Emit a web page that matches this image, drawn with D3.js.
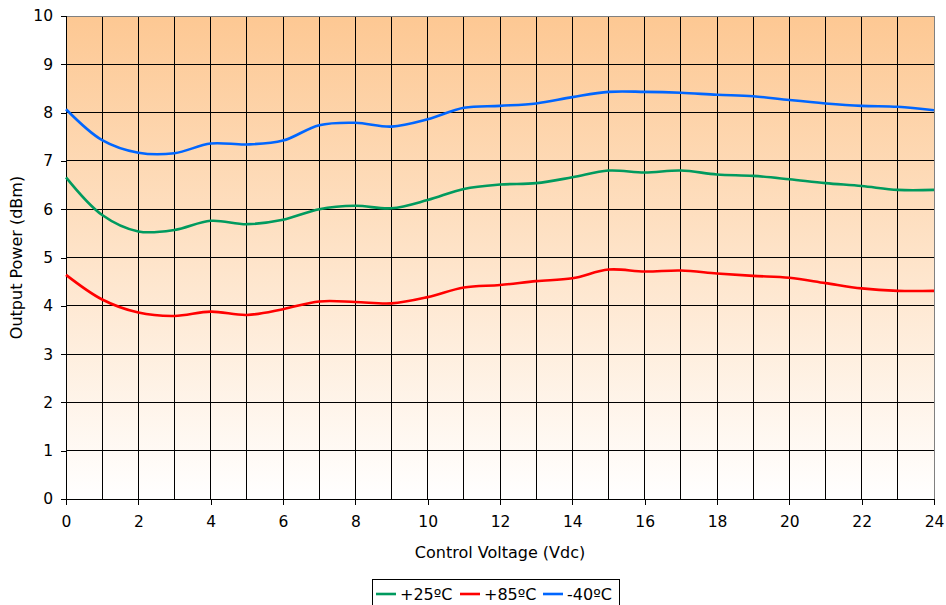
<!DOCTYPE html>
<html><head><meta charset="utf-8">
<script src="https://cdn.jsdelivr.net/npm/d3@7"></script>
<style>body{margin:0;background:#fff;} svg{display:block;}</style>
</head><body>
<svg id="c" width="946" height="605"></svg>
<script>
const voltages = d3.range(0, 25);
const p25 = [6.66,5.88,5.54,5.57,5.76,5.69,5.78,6.00,6.07,6.02,6.19,6.42,6.51,6.54,6.66,6.80,6.76,6.80,6.72,6.69,6.62,6.54,6.48,6.40,6.40];
const p85 = [4.64,4.13,3.86,3.79,3.88,3.81,3.93,4.09,4.08,4.05,4.18,4.38,4.43,4.51,4.57,4.75,4.71,4.73,4.67,4.62,4.58,4.47,4.36,4.31,4.31];
const m40 = [8.07,7.43,7.17,7.16,7.36,7.34,7.42,7.74,7.79,7.71,7.86,8.10,8.14,8.19,8.32,8.43,8.43,8.41,8.37,8.34,8.26,8.19,8.14,8.12,8.05];
const seriesNames = ["+25ºC","+85ºC","-40ºC"];
const seriesColors = ["#009A5E","#FF0000","#0066FF"];
const seriesData = [p25, p85, m40];
const xTicks = d3.range(0, 25, 2);
const yTicks = d3.range(0, 11, 1);

const svg = d3.select("#c");
const L=66, R=934, T=16, B=499;
const x = d3.scaleLinear().domain([0,24]).range([L,R]);
const y = d3.scaleLinear().domain([0,10]).range([B,T]);
const font = "DejaVu Sans, Verdana, sans-serif";

const defs = svg.append("defs");
const g = defs.append("linearGradient").attr("id","bg").attr("x1",0).attr("y1",0).attr("x2",0).attr("y2",1);
g.append("stop").attr("offset","0%").attr("stop-color","#FDC893");
g.append("stop").attr("offset","100%").attr("stop-color","#FFFFFF");
svg.append("rect").attr("x",L).attr("y",T).attr("width",R-L).attr("height",B-T).attr("fill","url(#bg)");

// grid
svg.append("g").selectAll("line").data(d3.range(1,24)).join("line")
  .attr("x1",d=>x(d)).attr("x2",d=>x(d)).attr("y1",T).attr("y2",B)
  .attr("stroke","#000").attr("stroke-width",1).attr("shape-rendering","crispEdges");
svg.append("g").selectAll("line").data(d3.range(1,10)).join("line")
  .attr("y1",d=>y(d)).attr("y2",d=>y(d)).attr("x1",L).attr("x2",R)
  .attr("stroke","#000").attr("stroke-width",1).attr("shape-rendering","crispEdges");
// border
svg.append("rect").attr("x",L).attr("y",T).attr("width",R-L).attr("height",B-T)
  .attr("fill","none").attr("stroke","#808080").attr("stroke-width",1).attr("shape-rendering","crispEdges");

// axes
const xa = svg.append("g").attr("transform",`translate(0,${B})`)
  .call(d3.axisBottom(x).tickValues(xTicks).tickSize(6).tickPadding(11).tickFormat(d3.format("d")));
const ya = svg.append("g").attr("transform",`translate(${L},0)`)
  .call(d3.axisLeft(y).tickValues(yTicks).tickSize(5).tickPadding(8).tickFormat(d3.format("d")));
[xa,ya].forEach(a=>{
  a.select(".domain").attr("stroke","#000").attr("shape-rendering","crispEdges");
  a.selectAll(".tick line").attr("stroke","#000").attr("shape-rendering","crispEdges");
  a.selectAll("text").attr("font-family",font).attr("font-size",15.5).attr("fill","#000");
});

// lines
const line = d3.line().x((d,i)=>x(voltages[i])).y(d=>y(d)).curve(d3.curveCatmullRom.alpha(0.5));
seriesData.forEach((s,k)=>{
  svg.append("path").datum(s).attr("d",line).attr("fill","none")
    .attr("stroke",seriesColors[k]).attr("stroke-width",2.6).attr("stroke-linejoin","round");
});

// titles
svg.append("text").attr("x",(L+R)/2).attr("y",558).attr("text-anchor","middle")
  .attr("font-family",font).attr("font-size",16).text("Control Voltage (Vdc)");
svg.append("text").attr("transform",`translate(22,${(T+B)/2}) rotate(-90)`).attr("text-anchor","middle")
  .attr("font-family",font).attr("font-size",16).text("Output Power (dBm)");

// legend
const lg = svg.append("g");
lg.append("rect").attr("x",372.5).attr("y",579.5).attr("width",247).attr("height",30)
  .attr("fill","#fff").attr("stroke","#000").attr("stroke-width",1);
const legX = [376, 460, 543];
seriesNames.forEach((n,k)=>{
  lg.append("line").attr("x1",legX[k]).attr("x2",legX[k]+20).attr("y1",594).attr("y2",594)
    .attr("stroke",seriesColors[k]).attr("stroke-width",2.6);
  lg.append("text").attr("x",legX[k]+24).attr("y",600).attr("font-family",font).attr("font-size",16).text(n);
});
</script>
</body></html>
